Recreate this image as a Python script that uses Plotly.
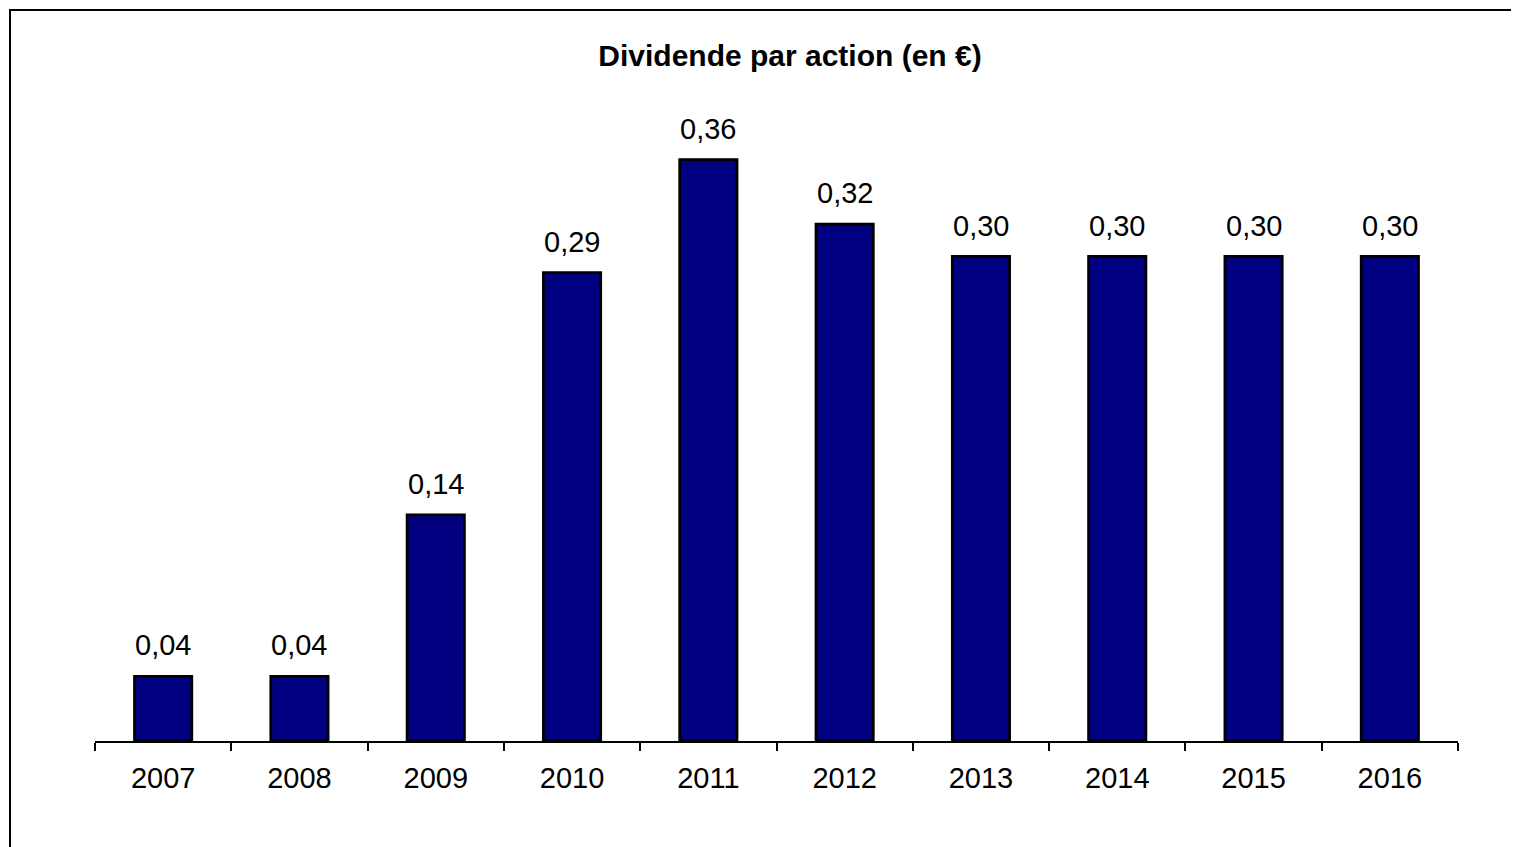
import plotly.graph_objects as go

years = ["2007", "2008", "2009", "2010", "2011", "2012", "2013", "2014", "2015", "2016"]
dividends = [0.04, 0.04, 0.14, 0.29, 0.36, 0.32, 0.30, 0.30, 0.30, 0.30]

fig = go.Figure()
fig.add_trace(go.Bar(
    x=years,
    y=dividends,
    marker=dict(color="#000080", line=dict(color="black", width=2.8)),
    hoverinfo="x+y",
))

# value labels above the bars (category axis -> annotations use the category index)
for i, val in enumerate(dividends):
    fig.add_annotation(
        x=i, y=val, text=f"{val:.2f}".replace(".", ","),
        showarrow=False, yanchor="bottom", yshift=13,
        font=dict(size=29, color="black"),
    )

fig.update_layout(
    width=1511,
    height=839,
    margin=dict(l=87, r=61, t=87, b=106),
    paper_bgcolor="white",
    plot_bgcolor="white",
    font=dict(family="Liberation Sans, Arial, sans-serif", color="black"),
    bargap=0.58,
    showlegend=False,
    title=dict(
        text="<b>Dividende par action (en €)</b>",
        x=(790 - 95) / 1363, xref="paper", xanchor="center",
        y=1 - 47 / 839, yanchor="middle",
        font=dict(size=30),
    ),
)
fig.update_xaxes(
    type="category", range=[-0.5, len(years) - 0.5],
    showline=True, linecolor="black", linewidth=2,
    ticks="outside", tickson="boundaries", ticklen=8, tickwidth=1.5, tickcolor="black",
    tickfont=dict(size=29), tickangle=0, ticklabelstandoff=10, showgrid=False,
)
fig.update_yaxes(range=[0, 0.4], visible=False)

# outer frame around the chart
fig.add_shape(type="rect", xref="paper", yref="paper",
              x0=(2 - 87) / 1363, x1=1.2, y0=-0.3, y1=(733 - 2) / 646,
              line=dict(color="black", width=2))

fig.write_html("out.html")
